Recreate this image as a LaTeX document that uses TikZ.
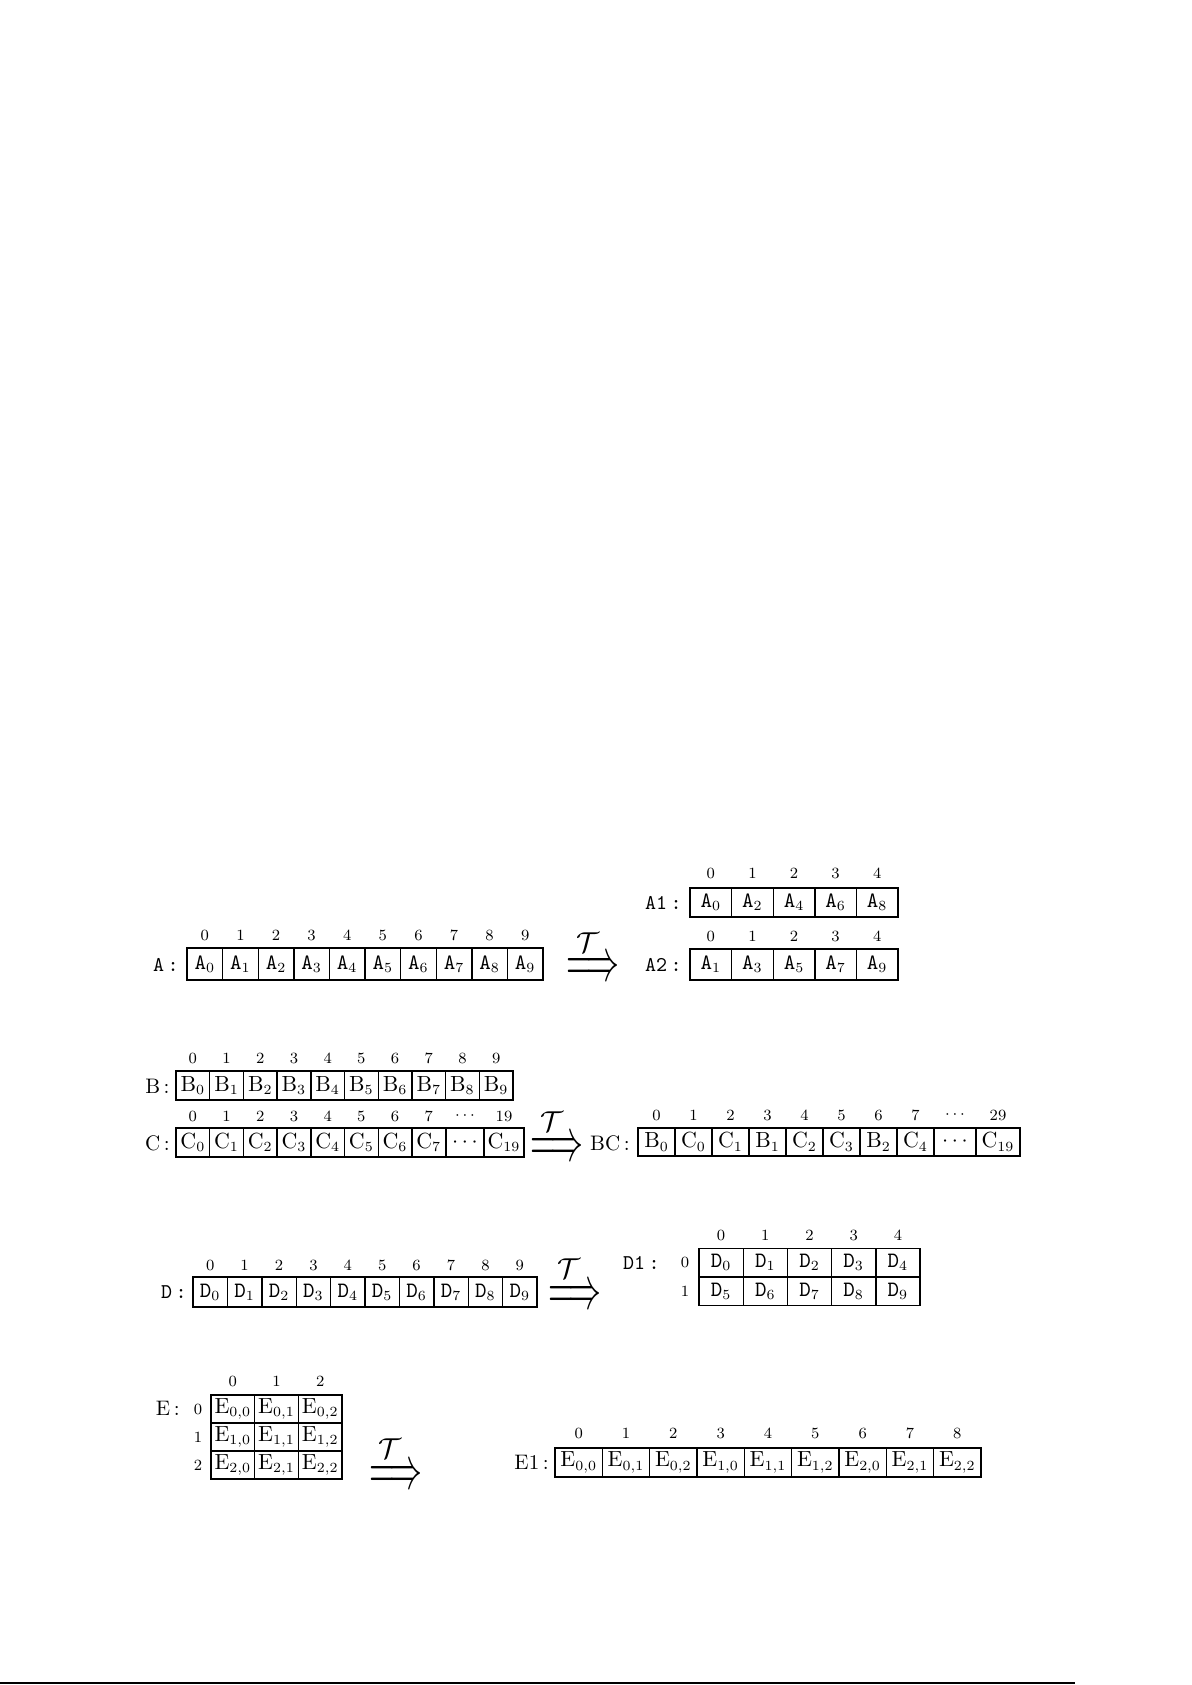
\documentclass[tikz,border=0pt]{standalone}
\usepackage{graphicx}
\begin{document}
\begin{tikzpicture}[x=0.5pt,y=-0.5pt,
  cellbox/.style={draw,line width=0.7pt,inner sep=0pt,font=\fontsize{10.5}{12}\selectfont},
  idx/.style={inner sep=0pt,font=\fontsize{7.8}{9}\selectfont},
  lab/.style={inner sep=0pt,anchor=east,font=\fontsize{10.5}{12}\selectfont},
  arr/.style={inner sep=0pt},
  tsym/.style={inner sep=0pt,font=\fontsize{14}{14}\selectfont}]
\fill[white] (0,0) rectangle (1192,1685);
\useasboundingbox (0,0) rectangle (1192,1685);

% ---------- A ----------
\node[lab] (labA) at (179,965) {\ttfamily A\,:};
\foreach \i in {0,...,9}{
  \node[cellbox,minimum width=17.8pt,minimum height=16pt] (A\i) at ({187+35.6*(\i+0.5)},964) {$\mathtt{A}_{\i}$};
  \node[idx] (iA\i) at ({187+35.6*(\i+0.5)},935) {\i};
}
\node[arr] (arrA) at (593,969) {\resizebox{26.5pt}{11pt}{$\Longrightarrow$}};
\node[tsym] (tA) at (588,943) {$\mathcal{T}$};

% ---------- A1 ----------
\node[lab] (labA1) at (682,903) {\ttfamily A1\,:};
\foreach \i/\s in {0/0,1/2,2/4,3/6,4/8}{
  \node[cellbox,minimum width=20.8pt,minimum height=14.5pt] (Aa\i) at ({690+41.6*(\i+0.5)},902.5) {$\mathtt{A}_{\s}$};
  \node[idx] (iAa\i) at ({690+41.6*(\i+0.5)},873) {\i};
}
% ---------- A2 ----------
\node[lab] (labA2) at (682,965) {\ttfamily A2\,:};
\foreach \i/\s in {0/1,1/3,2/5,3/7,4/9}{
  \node[cellbox,minimum width=20.8pt,minimum height=15.5pt] (Ab\i) at ({690+41.6*(\i+0.5)},964.5) {$\mathtt{A}_{\s}$};
  \node[idx] (iAb\i) at ({690+41.6*(\i+0.5)},936) {\i};
}

% ---------- B ----------
\node[lab] (labB) at (170,1086) {B\,:};
\foreach \i in {0,...,9}{
  \node[cellbox,minimum width=16.85pt,minimum height=14.5pt] (B\i) at ({176+33.7*(\i+0.5)},1085.5) {$\mathrm{B}_{\i}$};
  \node[idx] (iB\i) at ({176+33.7*(\i+0.5)},1058) {\i};
}
% ---------- C ----------
\node[lab] (labC) at (170,1143) {C\,:};
\foreach \i in {0,...,7}{
  \node[cellbox,minimum width=16.85pt,minimum height=14.5pt] (C\i) at ({176+33.7*(\i+0.5)},1142.5) {$\mathrm{C}_{\i}$};
  \node[idx] (iC\i) at ({176+33.7*(\i+0.5)},1116) {\i};
}
\node[cellbox,minimum width=19.2pt,minimum height=14.5pt] (Cdots) at (465,1142.5) {$\cdots$};
\node[idx] (iCdots) at (465,1116) {$\cdots$};
\node[cellbox,minimum width=20pt,minimum height=14.5pt] (C19) at (504,1142.5) {$\mathrm{C}_{19}$};
\node[idx] (iC19) at (504,1116) {19};
\node[arr] (arrC) at (556.5,1149) {\resizebox{26.5pt}{11pt}{$\Longrightarrow$}};
\node[tsym] (tC) at (552,1122) {$\mathcal{T}$};

% ---------- BC ----------
\node[lab] (labBC) at (630,1143) {BC\,:};
\foreach \i/\l/\n in {0/B/0,1/C/0,2/C/1,3/B/1,4/C/2,5/C/3,6/B/2,7/C/4}{
  \node[cellbox,minimum width=18.5pt,minimum height=14pt] (BC\i) at ({638+37*(\i+0.5)},1142) {$\mathrm{\l}_{\n}$};
  \node[idx] (iBC\i) at ({638+37*(\i+0.5)},1115) {\i};
}
\node[cellbox,minimum width=21pt,minimum height=14pt] (BCdots) at (955,1142) {$\cdots$};
\node[idx] (iBCdots) at (955,1115) {$\cdots$};
\node[cellbox,minimum width=22pt,minimum height=14pt] (BC29) at (998,1142) {$\mathrm{C}_{19}$};
\node[idx] (iBC29) at (998,1115) {29};

% ---------- D ----------
\node[lab] (labD) at (187,1292) {\ttfamily D\,:};
\foreach \i in {0,...,9}{
  \node[cellbox,minimum width=17.2pt,minimum height=15pt] (D\i) at ({193+34.4*(\i+0.5)},1292) {$\mathtt{D}_{\i}$};
  \node[idx] (iD\i) at ({193+34.4*(\i+0.5)},1265) {\i};
}
\node[arr] (arrD) at (575,1297) {\resizebox{26.5pt}{11pt}{$\Longrightarrow$}};
\node[tsym] (tD) at (569,1269) {$\mathcal{T}$};

% ---------- D1 ----------
\node[lab] (labD1) at (660,1263) {\ttfamily D1\,:};
\foreach \c in {0,...,4}{
  \node[idx] (iDc\c) at ({699+44.2*(\c+0.5)},1235) {\c};
}
\foreach \r/\y in {0/1262.5,1/1291}{
  \node[idx] (iDr\r) at (685,\y) {\r};
  \foreach \c in {0,...,4}{
    \pgfmathtruncatemacro{\k}{\r*5+\c}
    \node[cellbox,minimum width=22.1pt,minimum height=14.3pt] (Dd\r\c) at ({699+44.2*(\c+0.5)},\y) {$\mathtt{D}_{\k}$};
  }
}

% ---------- E ----------
\node[lab] (labE) at (180,1408) {E\,:};
\foreach \c in {0,...,2}{
  \node[idx] (iEc\c) at ({211+43.67*(\c+0.5)},1381) {\c};
}
\foreach \r in {0,...,2}{
  \node[idx] (iEr\r) at (198,{1395+28*(\r+0.5)}) {\r};
  \foreach \c in {0,...,2}{
    \node[cellbox,minimum width=21.83pt,minimum height=14pt] (E\r\c) at ({211+43.67*(\c+0.5)},{1395+28*(\r+0.5)}) {$\mathrm{E}_{\r,\c}$};
  }
}
\node[arr] (arrE) at (396,1477) {\resizebox{26.5pt}{11pt}{$\Longrightarrow$}};
\node[tsym] (tE) at (390,1449) {$\mathcal{T}$};

% ---------- E1 ----------
\node[lab] (labE1) at (549,1462) {E1\,:};
\foreach \i in {0,...,8}{
  \pgfmathtruncatemacro{\r}{int(\i/3)}
  \pgfmathtruncatemacro{\c}{\i-3*\r}
  \node[cellbox,minimum width=23.67pt,minimum height=14.5pt] (Ee\i) at ({555+47.33*(\i+0.5)},1462.5) {$\mathrm{E}_{\r,\c}$};
  \node[idx] (iEe\i) at ({555+47.33*(\i+0.5)},1433) {\i};
}

% ---------- bottom rule ----------
\coordinate (ruleL) at (0,1683);
\coordinate (ruleR) at (1075,1683);
\draw[line width=0.8pt] (ruleL) -- (ruleR);
\end{tikzpicture}
\end{document}
